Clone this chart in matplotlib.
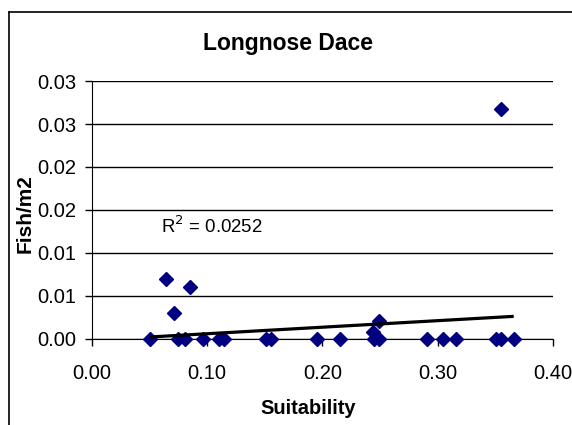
import numpy as np
import matplotlib
matplotlib.use("Agg")
import matplotlib.pyplot as plt
from matplotlib.lines import Line2D

plt.rcParams['font.family'] = ['Liberation Sans', 'DejaVu Sans']

# Data
suitability = [0.3547, 0.0646, 0.0848, 0.0709, 0.2494, 0.2437,
               0.050, 0.0747, 0.0804, 0.0962, 0.110, 0.1149, 0.1506, 0.155,
               0.195, 0.215, 0.2446, 0.249, 0.2907, 0.3043, 0.3158, 0.3505,
               0.3552, 0.3659]
fish_m2 = [0.02671, 0.00697, 0.00604, 0.00302, 0.00213, 0.00077,
           0, 0, 0, 0, 0, 0, 0, 0,
           0, 0, 0, 0, 0, 0, 0, 0,
           0, 0]
# linear trendline as drawn in the chart (slope, intercept)
trend_fit = [0.0076, -0.00015]
x_ticks = [0.0, 0.1, 0.2, 0.3, 0.4]
x_labels = ["0.00", "0.10", "0.20", "0.30", "0.40"]
y_ticks = [0.0, 0.005, 0.01, 0.015, 0.02, 0.025, 0.03]
y_labels = ["0.00", "0.01", "0.01", "0.02", "0.02", "0.03", "0.03"]
r2_text = "R$^2$ = 0.0252"

fig = plt.figure(figsize=(5.72, 4.25), dpi=100)
ax = fig.add_axes([0.1608, 0.2024, 0.806, 0.607])

x = np.array(suitability)
y = np.array(fish_m2)

xt = np.array([x.min(), x.max()])
ax.plot(xt, np.polyval(trend_fit, xt), color="black", lw=2.3, zorder=4,
        solid_capstyle="butt")

ax.plot(x, y, linestyle="none", marker="D", markersize=7.5,
        color="#000080", markeredgecolor="#000080", zorder=3, clip_on=False)

ax.set_xlim(0, 0.4)
ax.set_ylim(0, 0.03)
ax.set_xticks(x_ticks)
ax.set_xticklabels(x_labels)
ax.set_yticks(y_ticks)
ax.set_yticklabels(y_labels)
ax.tick_params(labelsize=14.5, length=5, width=1, direction="out", color="black")
ax.tick_params(axis="x", pad=13)
ax.tick_params(axis="y", pad=6)

ax.yaxis.grid(True, color="black", lw=1)
ax.set_axisbelow(True)
ax.spines["top"].set_visible(False)
ax.spines["right"].set_visible(False)

ax.text(0.425, 1.147, "Longnose Dace", transform=ax.transAxes,
        fontsize=16.5, fontweight="bold", ha="center", va="center")
ax.set_xlabel("Suitability", fontsize=14.5, fontweight="bold", va="top")
ax.xaxis.set_label_coords(0.4685, -0.232)
ax.set_ylabel("Fish/m2", fontsize=15, fontweight="bold")
ax.yaxis.set_label_coords(-0.125, 0.488)

ax.text(0.06, 0.0131, r2_text, fontsize=13.4, va="center", ha="left")

# chart-area border (cut by the image edge on right and bottom)
fig.add_artist(Line2D([9 / 572, 9 / 572], [0, 1 - 12 / 425],
                      transform=fig.transFigure, color="black", lw=1.2))
fig.add_artist(Line2D([9 / 572, 1], [1 - 12 / 425, 1 - 12 / 425],
                      transform=fig.transFigure, color="black", lw=1.2))

fig.savefig("out.png", dpi=100)
